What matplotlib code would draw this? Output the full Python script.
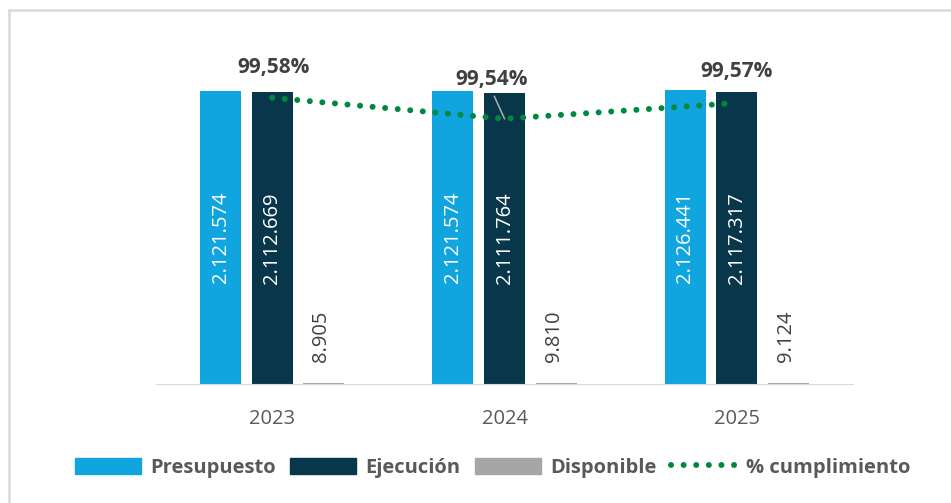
import matplotlib
matplotlib.use("Agg")
import matplotlib.pyplot as plt
from matplotlib.lines import Line2D
from matplotlib.patches import Patch
import numpy as np

plt.rcParams['font.family'] = ['Open Sans', 'DejaVu Sans']

# data
years = ['2023', '2024', '2025']
presupuesto = [2121574, 2121574, 2126441]
ejecucion = [2112669, 2111764, 2117317]
disponible = [8905, 9810, 9124]
cumplimiento = [99.58, 99.54, 99.57]

pres_lbl = ['2.121.574', '2.121.574', '2.126.441']
ejec_lbl = ['2.112.669', '2.111.764', '2.117.317']
disp_lbl = ['8.905', '9.810', '9.124']
pct_lbl = ['99,58%', '99,54%', '99,57%']

c_pres = '#11A5DF'
c_ejec = '#08374C'
c_disp = '#A6A6A6'
c_line = '#00893E'
c_text = '#404040'

fig = plt.figure(figsize=(9.51, 5.03), dpi=100)
ax = fig.add_axes([0.164, 0.2366, 0.733, 0.686])

x = np.arange(len(years))
w = 0.177
step = 0.222

ax.bar(x - step, presupuesto, w, color=c_pres)
ax.bar(x, ejecucion, w, color=c_ejec)
ax.bar(x + step, disponible, w, color=c_disp)

ax.set_xlim(-0.5, 2.5)
ax.set_ylim(0, 2500000)

for i in range(3):
    ax.text(x[i] - step, presupuesto[i] / 2, pres_lbl[i], rotation=90, color='white',
            ha='center', va='center', fontsize=14.5)
    ax.text(x[i], ejecucion[i] / 2, ejec_lbl[i], rotation=90, color='white',
            ha='center', va='center', fontsize=14.5)
    ax.text(x[i] + step - 0.01, disponible[i] + 150000, disp_lbl[i], rotation=90, color=c_text,
            ha='center', va='bottom', fontsize=14.5)

ax.set_xticks(x)
ax.set_xticklabels(years, fontsize=14.5, color='#595959')
ax.tick_params(axis='x', length=0, pad=18)
ax.set_yticks([])
for s in ['top', 'right', 'left']:
    ax.spines[s].set_visible(False)
ax.spines['bottom'].set_color('#D9D9D9')

# secondary axis for % cumplimiento
ax2 = ax.twinx()
ax2.set_ylim(99.035, 99.692)
ax2.plot(x, cumplimiento, color=c_line, linewidth=4.3,
         linestyle=(0, (0.01, 2.1)), dash_capstyle='round')
ax2.set_yticks([])
for s in ['top', 'right', 'left', 'bottom']:
    ax2.spines[s].set_visible(False)

ax2.annotate(pct_lbl[0], (x[0], cumplimiento[0]), xytext=(1, 22), textcoords='offset points',
             ha='center', va='center', fontsize=15, fontweight='bold', color=c_text)
ax2.annotate(pct_lbl[1], (x[1], cumplimiento[1]), xytext=(-9.5, 28.5), textcoords='offset points',
             ha='center', va='center', fontsize=15, fontweight='bold', color=c_text,
             arrowprops=dict(arrowstyle='-', color='#A6A6A6', lw=1.2,
                             shrinkA=3, shrinkB=0, relpos=(0.5, 0.0)))
ax2.annotate(pct_lbl[2], (x[2], cumplimiento[2]), xytext=(0, 23), textcoords='offset points',
             ha='center', va='center', fontsize=15, fontweight='bold', color=c_text)

handles = [Patch(color=c_pres), Patch(color=c_ejec), Patch(color=c_disp),
           Line2D([0], [0], color=c_line, linewidth=4.3, linestyle=(0, (0.01, 2.1)),
                  dash_capstyle='round')]
leg = fig.legend(handles, ['Presupuesto', 'Ejecución', 'Disponible', '% cumplimiento'],
                 loc='center', bbox_to_anchor=(0.518, 0.07), ncol=4, frameon=False,
                 prop={'size': 14.5, 'weight': 'bold'}, handlelength=3.3, handleheight=0.85,
                 columnspacing=0.7, handletextpad=0.45)
for t in leg.get_texts():
    t.set_color('#595959')

# chart frame (left and top edges visible)
fig.add_artist(Line2D([0.009, 0.009], [0.0, 0.98], transform=fig.transFigure,
                      color='#D9D9D9', linewidth=1.8))
fig.add_artist(Line2D([0.009, 1.0], [0.98, 0.98], transform=fig.transFigure,
                      color='#D9D9D9', linewidth=1.8))

fig.savefig('out.png', dpi=100)
